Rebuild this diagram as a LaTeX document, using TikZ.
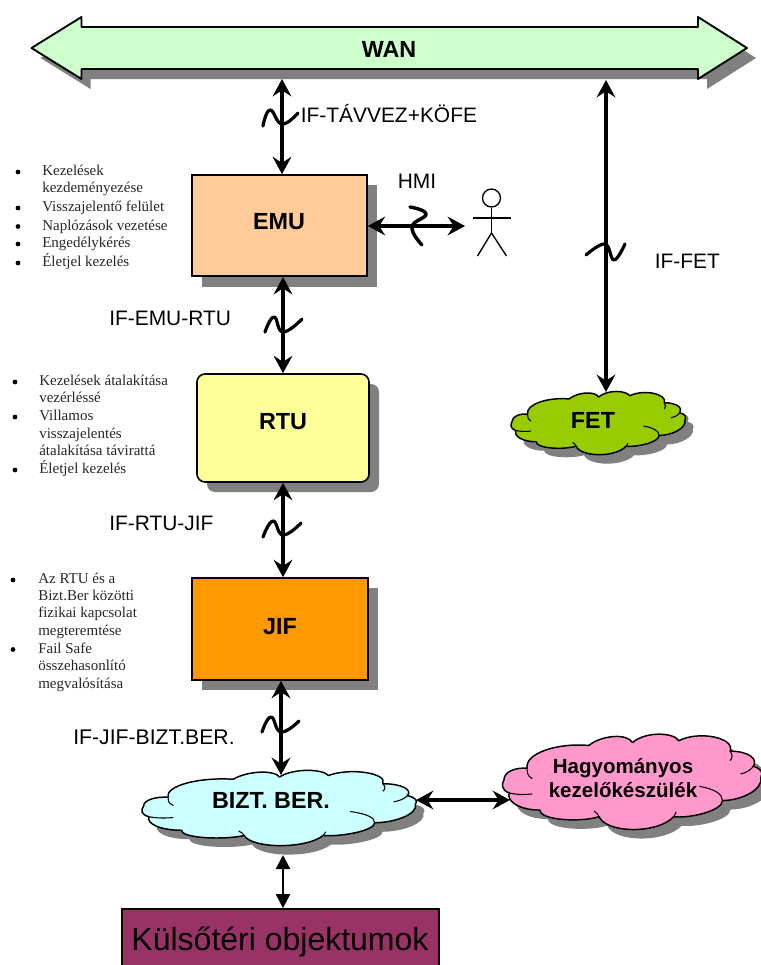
\documentclass[tikz,border=0pt]{standalone}
\usepackage{fontspec}
\setmainfont{Liberation Serif}
\setsansfont{Liberation Sans}
\usetikzlibrary{arrows.meta}
\definecolor{shadowgray}{HTML}{808080}
\definecolor{wanfill}{HTML}{CCFFCC}
\definecolor{emufill}{HTML}{FFCC99}
\definecolor{rtufill}{HTML}{FFFF99}
\definecolor{jiffill}{HTML}{FF9900}
\definecolor{biztfill}{HTML}{CCFFFF}
\definecolor{hagyfill}{HTML}{FF99CC}
\definecolor{fetfill}{HTML}{99CC00}
\definecolor{kulsofill}{HTML}{993366}
\newcommand{\cloudoutline}{(0,47) .. controls (0,38) and (5,34) .. (9,35)
 .. controls (8,20) and (20,8) .. (33,11)
 .. controls (38,0) and (48,-2) .. (50,8)
 .. controls (55,-4) and (66,-3) .. (68,6)
 .. controls (76,-5) and (90,3) .. (88,17)
 .. controls (95,17) and (99,25) .. (97,33)
 .. controls (100,35) and (101,40) .. (100,44)
 .. controls (101,58) and (92,69) .. (85,69)
 .. controls (85,80) and (72,88) .. (66,86)
 .. controls (60,104) and (40,104) .. (37,86)
 .. controls (30,92) and (14,90) .. (14,79)
 .. controls (6,79) and (1,70) .. (2,61)
 .. controls (-1,58) and (-1,52) .. (0,47) -- cycle}
\newcommand{\cloudinner}{(2,61) .. controls (5,63) and (8,63) .. (11,62)
 (9,35) .. controls (9,39) and (9,43) .. (11,46)
 (88,17) .. controls (89,21) and (89,24) .. (88,27)
 (97,33) .. controls (96,37) and (94,40) .. (92,41)
 (85,69) .. controls (85,62) and (82,57) .. (76,54)
 (37,86) .. controls (37,84) and (36,82) .. (35,80)
 (66,86) .. controls (66,85) and (67,83) .. (67,81)}
% x, y, w, h, fill
\newcommand{\cloudat}[5]{%
 \begin{scope}[shift={(#1+8,#2+9)},xscale=#3/100,yscale=#4/100]
  \fill[shadowgray] \cloudoutline;
 \end{scope}
 \begin{scope}[shift={(#1,#2)},xscale=#3/100,yscale=#4/100]
  \draw[outl,fill=#5] \cloudoutline;
  \draw[outl,line width=.8pt] \cloudinner;
 \end{scope}}
\tikzset{
 outl/.style={draw=black,line width=1.1pt,line join=round},
 boxn/.style={draw=black,line width=1.2pt,inner sep=0pt,font=\sffamily\bfseries\fontsize{17.5pt}{20pt}\selectfont},
 lab/.style={inner sep=0pt,font=\sffamily\fontsize{15.7pt}{18pt}\selectfont},
 ttl/.style={inner sep=0pt,font=\sffamily\bfseries\fontsize{17.5pt}{20pt}\selectfont},
 item/.style={anchor=west,inner sep=0pt,text height=8pt,text depth=2.5pt,font=\fontsize{11.25pt}{13pt}\selectfont,text=black!85},
 bul/.style={circle,fill=black,inner sep=0pt,minimum size=3.6pt},
 link/.style={{Stealth[length=13pt,width=14pt,inset=4.5pt]}-{Stealth[length=13pt,width=14pt,inset=4.5pt]},line width=2.7pt},
 linkb/.style={{Stealth[length=13pt,width=14pt,inset=4.5pt]}-{Stealth[length=13pt,width=14pt,inset=4.5pt]},line width=3.4pt},
 linkc/.style={{Triangle[length=10.5pt,width=10.5pt]}-{Triangle[length=10.5pt,width=10.5pt]},line width=1.6pt},
 squig/.style={line width=2.4pt,line cap=round,line join=round},
}
\begin{document}
\begin{tikzpicture}[x=.75pt,y=-.75pt]
\clip (0,0) rectangle (761,965);
% WAN
\fill[shadowgray,shift={(9,10)}] (31.5,48) -- (81.5,17) -- (81.5,27) -- (698,27) -- (698,17) -- (747,48) -- (698,79) -- (698,69) -- (81.5,69) -- (81.5,79) -- cycle;
\draw[outl,fill=wanfill,line width=1.4pt] (31.5,48) -- (81.5,17) -- (81.5,27) -- (698,27) -- (698,17) -- (747,48) -- (698,79) -- (698,69) -- (81.5,69) -- (81.5,79) -- cycle;
\node[ttl] (wan) at (389,49) {WAN};
\coordinate (wanA) at (282,79);
\coordinate (wanB) at (606,80);
% boxes
\fill[shadowgray] (202,185) rectangle (377,287);
\node[boxn,fill=emufill,minimum width=131.25pt,minimum height=75.75pt] (emu) at (279.5,225.5) {};
\node[ttl] (emut) at (279,222) {EMU};
\fill[shadowgray,rounded corners=6pt] (207,384) rectangle (379,492);
\node[boxn,fill=rtufill,rounded corners=6pt,minimum width=129pt,minimum height=81pt] (rtu) at (283,428) {};
\node[ttl] (rtut) at (283,422) {RTU};
\fill[shadowgray] (202,588) rectangle (378,690);
\node[boxn,fill=jiffill,minimum width=132pt,minimum height=76.5pt] (jif) at (280,629) {};
\node[ttl] (jift) at (280,627) {JIF};
\node[draw=black,line width=1.3pt,fill=kulsofill,inner sep=0pt,minimum width=237.75pt,minimum height=60pt] (kulso) at (280.5,949) {};
\node[inner sep=0pt,font=\sffamily\fontsize{24pt}{28pt}\selectfont] (kulsot) at (280,942) {Külsőtéri objektumok};
% clouds
\cloudat{512}{392}{173}{63}{fetfill}
\cloudat{143.5}{771}{272}{75}{biztfill}
\cloudat{504}{735}{257}{95}{hagyfill}
\node[ttl] (fet) at (593,420) {FET};
\node[ttl] (bizt) at (271,800) {BIZT. BER.};
\node[inner sep=0pt,align=center,font=\sffamily\bfseries\fontsize{15.4pt}{18pt}\selectfont] (hagy) at (623,778) {Hagyományos\\kezelőkészülék};
\coordinate (biztN) at (281,775);
\coordinate (biztE) at (416,800);
\coordinate (biztS) at (283,855);
\coordinate (hagyW) at (510,800);
\coordinate (fetN) at (606,392);
% person
\node[draw=black,line width=1pt,circle,minimum size=13.5pt,inner sep=0pt] (head) at (491.5,198) {};
\coordinate (hip) at (491.5,233);
\coordinate (armL) at (472.5,218);
\coordinate (armR) at (511,218);
\coordinate (legL) at (477.5,256);
\coordinate (legR) at (506.5,256);
\draw[line width=1pt] (head.south) -- (hip);
\draw[line width=1pt] (armL) -- (armR);
\draw[line width=1pt] (legL) -- (hip) -- (legR);
\coordinate (hmiR) at (465,226);
% connectors
\draw[link] (wanA) -- (emu.north -| wanA);
\draw[linkb] (wanB) -- (fetN);
\draw[linkb] (emu.east |- hmiR) -- (hmiR);
\coordinate (emurtu) at (283,277);
\draw[link,line width=3pt] (emurtu) -- (rtu.north);
\draw[link,line width=3pt] (rtu.south -| emurtu) -- (jif.north -| emurtu);
\draw[link] (jif.south -| biztN) -- (biztN);
\draw[link] (biztE) -- (hagyW);
\draw[linkc] (biztS) -- (kulso.north -| biztS);
% squiggles
\draw[squig] plot[smooth,tension=.8] coordinates {(263,126) (270,110) (282,124) (298,113)};
\draw[squig,line width=2.6pt] plot[smooth,tension=.8] coordinates {(410,207) (426,214) (412,227) (422,245)};
\draw[squig] plot[smooth,tension=.7] coordinates {(586,255) (605,244) (614,260) (625,244)};
\draw[squig] plot[smooth,tension=.8] coordinates {(265,332) (274,317) (283,332) (302,319)};
\draw[squig] plot[smooth,tension=.8] coordinates {(263,537) (273,521) (283,535) (301,523)};
\draw[squig] plot[smooth,tension=.8] coordinates {(262,732) (271,717) (281,732) (299,721)};
% labels
\node[lab,anchor=west] (l1) at (300.5,114) {IF-TÁVVEZ+KÖFE};
\node[lab] (l2) at (417,181) {HMI};
\node[lab,anchor=west] (l3) at (654.5,261) {IF-FET};
\node[lab,anchor=west] (l4) at (109,318) {IF-EMU-RTU};
\node[lab,anchor=west] (l5) at (109,523) {IF-RTU-JIF};
\node[lab,anchor=west,font=\sffamily\fontsize{15.9pt}{18pt}\selectfont] (l6) at (73,737) {IF-JIF-BIZT.BER.};
% bullet lists
\foreach \t/\y [count=\i] in {Kezelések/172,kezdeményezése/189,Visszajelentő felület/208,Naplózások vezetése/226.5,Engedélykérés/244,Életjel kezelés/263}
  \node[item] (a\i) at (42,\y) {\t};
\foreach \y [count=\i] in {172,208,226.5,244,263}
  \node[bul] (ab\i) at (18,\y) {};
\foreach \t/\y [count=\i] in {Kezelések átalakítása/382,vezérléssé/399,Villamos/417,visszajelentés/434.5,átalakítása távirattá/452,Életjel kezelés/470}
  \node[item] (b\i) at (39,\y) {\t};
\foreach \y [count=\i] in {382,417,470}
  \node[bul] (bb\i) at (15,\y) {};
\foreach \t/\y [count=\i] in {Az RTU és a/580,Bizt.Ber közötti/597,fizikai kapcsolat/614,megteremtése/632,Fail Safe/649.5,összehasonlító/667,megvalósítása/684.5}
  \node[item] (c\i) at (38,\y) {\t};
\foreach \y [count=\i] in {580,649.5}
  \node[bul] (cb\i) at (13,\y) {};
\end{tikzpicture}
\end{document}
